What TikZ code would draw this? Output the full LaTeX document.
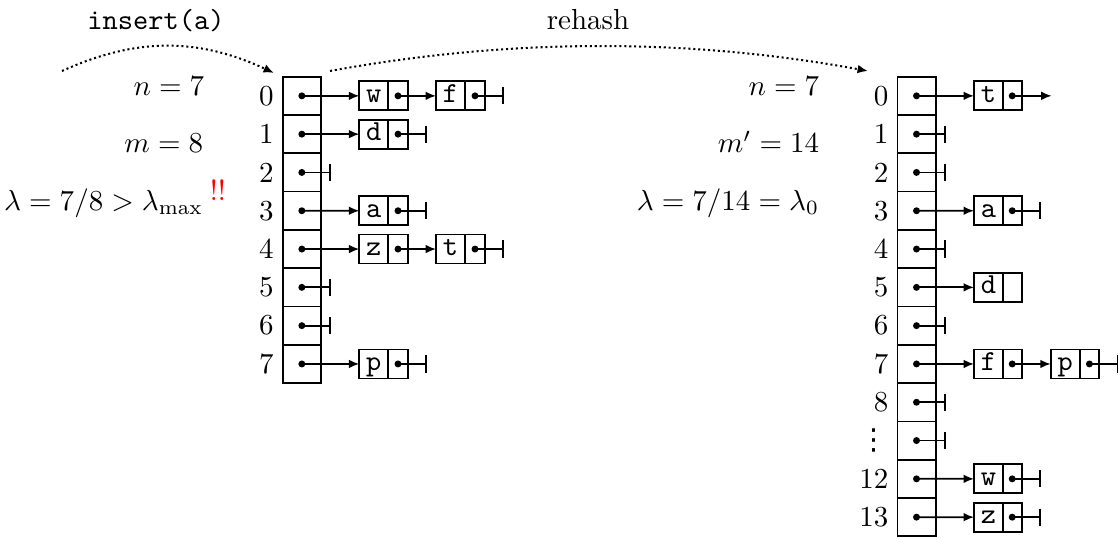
\documentclass[tikz,border=0pt]{standalone}
\usepackage{fontspec}
\newfontfamily\dotsfont{DejaVu Sans}
\usetikzlibrary{arrows.meta}

\begin{document}
\begin{tikzpicture}[x=0.3448pt,y=-0.3448pt,>={Latex[length=3.6pt,width=3pt]},line width=0.6pt,
    cell/.style={draw,inner sep=0pt,outer sep=0pt,minimum width=13.2pt,minimum height=13.2pt,
      path picture={\fill (path picture bounding box.center) circle[radius=1.2pt];}},
    key/.style={draw,inner sep=0pt,outer sep=0pt,minimum width=10pt,minimum height=10pt,
      text height=1ex,text depth=0pt,font=\ttfamily},
    slot/.style={draw,inner sep=0pt,outer sep=0pt,minimum width=6.7pt,minimum height=10pt},
    ptr/.style={slot,path picture={\fill (path picture bounding box.center) circle[radius=1.2pt];}},
    nil/.style={-{Bar[width=5.9pt]}},
    stat/.style={anchor=base east,inner sep=0pt}]
  \useasboundingbox (0,0) rectangle (1119,538);

  % old table, m = 8
  \foreach \i in {0,...,7} {
    \node[cell] (o\i) at (301.85,{95.85+38.3*\i}) {};
    \node[left=2.8pt,inner sep=0pt] (oi\i) at (o\i.west) {\i};
  }
  % new table, m' = 14
  \foreach \lab [count=\i from 0] in {0,1,2,3,4,5,6,7,8,{\dotsfont ⋮},12,13} {
    \node[cell] (n\i) at (916.5,{95.85+38.3*\i}) {};
    \node[left=2.8pt,inner sep=0pt] (ni\i) at (n\i.west) {\lab};
  }

  \node[stat] (on) at (205,96) {$n=7$};
  \node[stat] (om) at (204,153) {$m=8$};
  \node[stat] (olam) at (204,210) {$\lambda=7/8>\lambda_{\max}$};
  \node[red,anchor=base west,inner sep=0pt] (warn) at (209,200) {!!};
  \node[stat] (nn) at (820,96) {$n=7$};
  \node[stat] (nm) at (820,153) {$m'=14$};
  \node[stat] (nlam) at (820,210) {$\lambda=7/14=\lambda_0$};

  \node[anchor=base] (ins) at (156,30) {\texttt{insert(a)}};
  \node[anchor=base] (reh) at (588,30) {rehash};

  \coordinate (s1) at (62,71);
  \coordinate (e1) at (274,73);
  \draw[densely dotted,line width=0.7pt,->] (s1) .. controls (137,37) and (199,38) .. (e1);
  \coordinate (s2) at (330,71);
  \coordinate (e2) at (868,71);
  \draw[densely dotted,line width=0.7pt,->] (s2) .. controls (510,38) and (688,38) .. (e2);

  % chains, old table
  \node[key] (ow) at (373.8,95.85) {w};  \node[ptr] (owp) at (398,95.85) {};
  \node[key] (of) at (450.5,95.85) {f};  \node[ptr] (ofp) at (475,95.85) {};
  \node[key] (od) at (373.8,134.15) {d}; \node[ptr] (odp) at (398,134.15) {};
  \node[key] (oa) at (373.8,210.75) {a}; \node[ptr] (oap) at (398,210.75) {};
  \node[key] (oz) at (373.8,249.05) {z}; \node[ptr] (ozp) at (398,249.05) {};
  \node[key] (ot) at (450.5,249.05) {t}; \node[ptr] (otp) at (475,249.05) {};
  \node[key] (op) at (373.8,363.95) {p}; \node[ptr] (opp) at (398,363.95) {};

  \draw[->] (o0.center) -- (ow.west);
  \draw[->] (owp.center) -- (of.west);
  \draw[->] (o1.center) -- (od.west);
  \draw[->] (o3.center) -- (oa.west);
  \draw[->] (o4.center) -- (oz.west);
  \draw[->] (ozp.center) -- (ot.west);
  \draw[->] (o7.center) -- (op.west);

  % chains, new table
  \node[key] (nt) at (988.5,95.85) {t};   \node[ptr] (ntp) at (1012.2,95.85) {};
  \node[key] (na) at (988.5,210.75) {a};  \node[ptr] (nap) at (1012.2,210.75) {};
  \node[key] (nd) at (988.5,287.35) {d};  \node[slot] (ndp) at (1012.2,287.35) {};
  \node[key] (nf) at (988.5,363.95) {f};  \node[ptr] (nfp) at (1012.2,363.95) {};
  \node[key] (np) at (1065.2,363.95) {p}; \node[ptr] (npp) at (1089.4,363.95) {};
  \node[key] (nw) at (988.5,478.85) {w};  \node[ptr] (nwp) at (1012.2,478.85) {};
  \node[key] (nz) at (988.5,517.15) {z};  \node[ptr] (nzp) at (1012.2,517.15) {};

  \coordinate (ntx) at ([xshift=13.6pt]ntp.center);
  \draw[->] (n0.center) -- (nt.west);
  \draw[->] (ntp.center) -- (ntx);
  \draw[->] (n3.center) -- (na.west);
  \draw[->] (n5.center) -- (nd.west);
  \draw[->] (n7.center) -- (nf.west);
  \draw[->] (nfp.center) -- (np.west);
  \draw[->] (n10.center) -- (nw.west);
  \draw[->] (n11.center) -- (nz.west);

  % empty pointers
  \foreach \p in {o2,o5,o6,ofp,odp,oap,otp,opp,n1,n2,n4,n6,n8,n9,nap,npp,nwp,nzp} {
    \coordinate (nil\p) at ([xshift=10pt]\p.center);
    \draw[nil] (\p.center) -- (nil\p);
  }
\end{tikzpicture}
\end{document}
